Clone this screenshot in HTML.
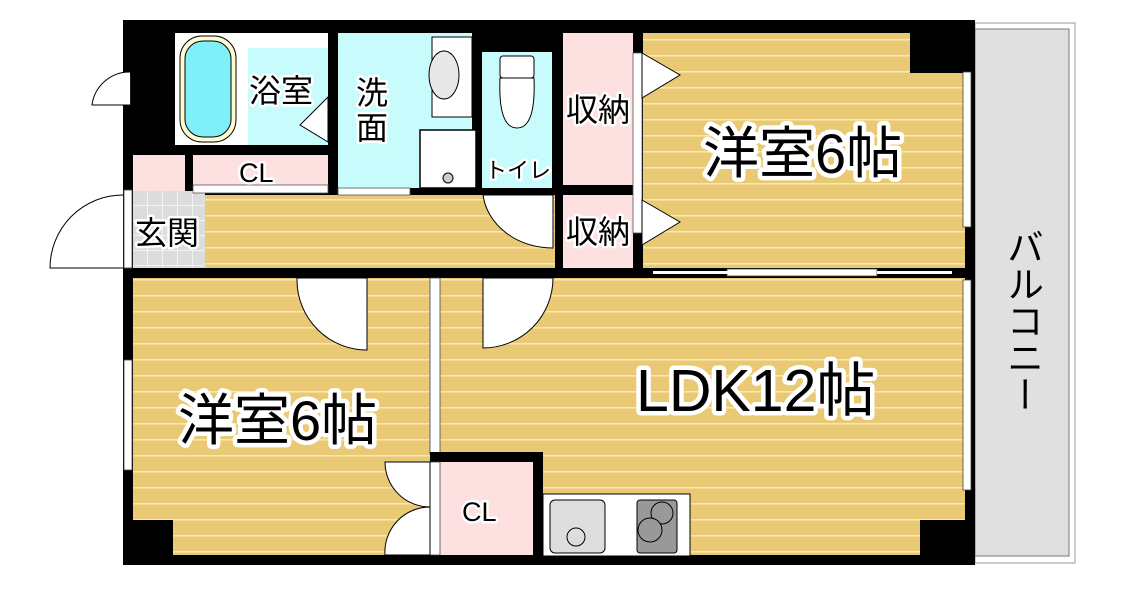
<!DOCTYPE html>
<html><head><meta charset="utf-8"><style>
html,body{margin:0;padding:0;background:#fff;width:1122px;height:590px;overflow:hidden}
svg{display:block}
text{font-family:"Liberation Sans","Noto Sans CJK JP",sans-serif;fill:#000}
.big{font-size:56px;stroke:#fff;stroke-width:9px;paint-order:stroke;stroke-linejoin:round}
.mid{font-size:32px;stroke:#fff;stroke-width:5px;paint-order:stroke;stroke-linejoin:round}
</style></head><body>
<svg width="1122" height="590" viewBox="0 0 1122 590" xmlns="http://www.w3.org/2000/svg">
<defs>
<pattern id="wood" width="20" height="16" patternUnits="userSpaceOnUse" y="0">
<rect width="20" height="16" fill="#e9c974"/><rect y="7" width="20" height="1.6" fill="#f6e6b4"/>
</pattern>
<pattern id="tile" width="15" height="15" patternUnits="userSpaceOnUse" x="133" y="191">
<rect width="15" height="15" fill="#dcdcdc"/><path d="M14.5 0V15M0 14.5H15" stroke="#f2f2f2" stroke-width="1"/>
</pattern>
</defs>
<rect x="975" y="23" width="100" height="540" fill="#fff" stroke="#999" stroke-width="1"/>
<rect x="975" y="29" width="94" height="527" fill="#e0e0e0" stroke="#777" stroke-width="1"/>
<text x="1022" y="228" font-size="37" style="writing-mode:vertical-rl">バルコニー</text>
<rect x="123" y="20" width="852" height="545" fill="#000"/>
<rect x="643" y="33" width="322" height="235" fill="url(#wood)"/>
<rect x="910" y="33" width="55" height="40" fill="#000"/>
<rect x="133" y="278" width="297" height="277" fill="url(#wood)"/>
<rect x="123" y="520" width="50" height="45" fill="#000"/>
<rect x="440" y="278" width="525" height="277" fill="url(#wood)"/>
<rect x="920" y="520" width="45" height="45" fill="#000"/>
<rect x="205" y="195" width="350" height="73" fill="url(#wood)"/>
<rect x="133" y="191" width="72" height="77" fill="url(#tile)"/>
<rect x="133" y="155" width="52" height="36" fill="#fde0e0"/>
<rect x="193" y="155" width="135" height="30" fill="#fde0e0"/>
<rect x="193" y="185" width="135" height="8" fill="#fff" stroke="#555" stroke-width="0.8"/>
<rect x="563" y="33" width="70" height="152" fill="#fde0e0"/>
<rect x="563" y="195" width="70" height="73" fill="#fde0e0"/>
<rect x="633" y="53" width="9" height="180" fill="#fff" stroke="#555" stroke-width="0.8"/>
<polygon points="642,53 680,75 642,98" fill="#fff" stroke="#000" stroke-width="1"/>
<polygon points="642,200 680,222 642,245" fill="#fff" stroke="#000" stroke-width="1"/>
<rect x="440" y="462" width="93" height="93" fill="#fde0e0"/>
<rect x="175" y="33" width="73" height="112" fill="#fff"/>
<rect x="180" y="36" width="56" height="106" rx="22" fill="#fffbd0" stroke="#000"/>
<rect x="185" y="41" width="46" height="96" rx="18" fill="#80f0f8" stroke="#000"/>
<rect x="248" y="33" width="80" height="15" fill="#fff"/>
<rect x="248" y="48" width="80" height="97" fill="#c8fcfc"/>
<polygon points="328,97 300,125 328,142" fill="#fff" stroke="#000"/>
<rect x="338" y="33" width="134" height="155" fill="#c8fcfc"/>
<rect x="432" y="37" width="40" height="80" fill="#fff" stroke="#000"/>
<ellipse cx="444" cy="75" rx="15" ry="24" fill="#e8e8e8" stroke="#000"/>
<rect x="420" y="130" width="56" height="58" fill="#fff" stroke="#000" stroke-width="1.5"/>
<circle cx="448" cy="178" r="5" fill="#ccc" stroke="#000"/>
<rect x="410" y="188" width="72" height="7" fill="#000"/>
<rect x="338" y="188" width="72" height="7" fill="#fff" stroke="#555" stroke-width="0.8"/>
<rect x="482" y="52" width="70" height="136" fill="#c8fcfc"/>
<rect x="500" y="56" width="34" height="22" rx="3" fill="#fff" stroke="#000"/>
<path d="M500 78 Q498 128 517 128 Q536 128 534 78Z" fill="#fff" stroke="#000"/>
<rect x="963" y="72" width="8" height="155" fill="#fff" stroke="#444" stroke-width="0.8"/>
<rect x="963" y="280" width="8" height="210" fill="#fff" stroke="#444" stroke-width="0.8"/>
<rect x="124" y="360" width="8" height="110" fill="#fff" stroke="#444" stroke-width="0.8"/>
<rect x="124" y="190" width="8" height="78" fill="#fff" stroke="#444" stroke-width="0.8"/>
<rect x="124" y="75" width="6" height="30" fill="#fff" stroke="#444" stroke-width="0.8"/>
<rect x="727" y="269" width="150" height="7" fill="#fff" stroke="#444" stroke-width="0.8"/>
<rect x="653" y="271" width="75" height="3" fill="#fff"/>
<rect x="877" y="271" width="75" height="3" fill="#fff"/>
<rect x="430" y="278" width="10" height="176" fill="#fff" stroke="#444" stroke-width="0.8"/>
<path d="M430 452H543V555H533V462H440V555H430Z" fill="#000"/>
<rect x="430" y="462" width="10" height="93" fill="#fff" stroke="#444" stroke-width="0.8"/>
<rect x="543" y="494" width="147" height="62" fill="#fff" stroke="#000"/>
<rect x="550" y="500" width="55" height="53" rx="5" fill="#ddd" stroke="#000"/>
<circle cx="576" cy="537" r="9" fill="#ddd" stroke="#000"/>
<rect x="637" y="500" width="40" height="53" rx="3" fill="#999" stroke="#000"/>
<circle cx="662" cy="513" r="11" fill="#999" stroke="#000"/>
<circle cx="650" cy="530" r="12" fill="#999" stroke="#000"/>
<path d="M123 268H50A73 73 0 0 1 123 195" fill="#fff" stroke="#000"/>
<path d="M130 105H92A38 38 0 0 1 130 72" fill="#fff" stroke="#000"/>
<path d="M297 278V281A70 70 0 0 0 367 350V278Z" fill="#fff" stroke="#000"/>
<path d="M553 278A70 70 0 0 1 483 348V278Z" fill="#fff" stroke="#000"/>
<path d="M553 195V248A70 60 0 0 1 483 195Z" fill="#fff" stroke="#000"/>
<path d="M430 462H385A45 45 0 0 0 430 507Z" fill="#fff" stroke="#000"/>
<path d="M430 555H385A45 45 0 0 1 430 507Z" fill="#fff" stroke="#000"/>
<text class="mid" x="249" y="102">浴室</text>
<text class="mid" x="356" y="104">洗</text>
<text class="mid" x="356" y="139">面</text>
<text class="mid" x="485" y="178" style="font-size:22px">トイレ</text>
<text class="mid" x="566" y="121">収納</text>
<text class="mid" x="566" y="243">収納</text>
<text class="mid" x="239" y="182" style="font-size:27px">CL</text>
<text class="mid" x="135" y="244">玄関</text>
<text class="mid" x="462" y="521" style="font-size:27px">CL</text>
<text class="big" x="703" y="173">洋室6帖</text>
<text class="big" x="178" y="440">洋室6帖</text>
<text class="big" x="636" y="411" style="font-size:59px">LDK12帖</text>
</svg>
</body></html>
